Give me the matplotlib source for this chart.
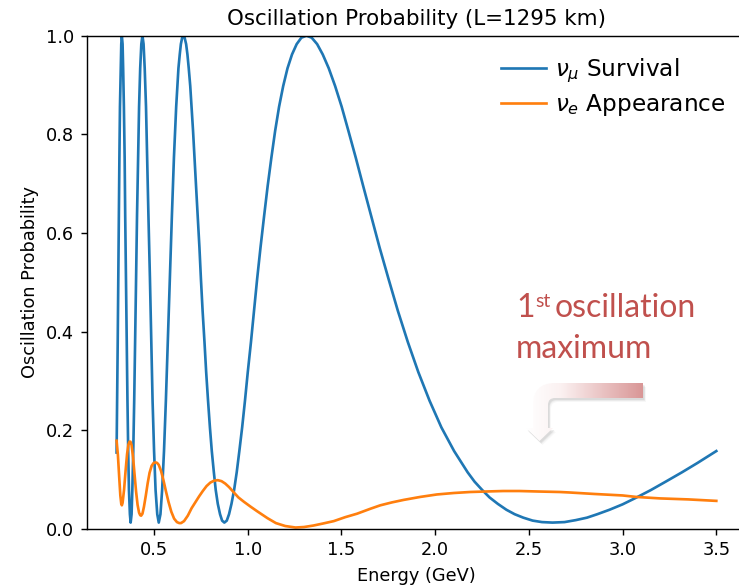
import numpy as np
import matplotlib
matplotlib.use("Agg")
import matplotlib.pyplot as plt
from matplotlib.path import Path
from matplotlib.patches import PathPatch
from matplotlib.transforms import Affine2D
from matplotlib.colors import LinearSegmentedColormap

# energies (GeV) and probabilities
survival_energy = [0.300, 0.303, 0.306, 0.309, 0.312, 0.315, 0.318, 0.322, 0.325, 0.328,
                   0.332, 0.335, 0.339, 0.343, 0.346, 0.350, 0.354, 0.358, 0.362, 0.366,
                   0.371, 0.375, 0.380, 0.384, 0.389, 0.394, 0.399, 0.404, 0.409, 0.415,
                   0.420, 0.426, 0.432, 0.438, 0.444, 0.450, 0.457, 0.463, 0.470, 0.478,
                   0.485, 0.492, 0.500, 0.508, 0.517, 0.525, 0.534, 0.543, 0.553, 0.563,
                   0.573, 0.584, 0.595, 0.606, 0.618, 0.630, 0.637, 0.643, 0.650, 0.657,
                   0.663, 0.671, 0.678, 0.685, 0.693, 0.700, 0.708, 0.716, 0.724, 0.733,
                   0.742, 0.750, 0.759, 0.769, 0.778, 0.788, 0.798, 0.808, 0.819, 0.829,
                   0.840, 0.852, 0.863, 0.875,
                   0.888, 0.900, 0.913, 0.927, 0.941, 0.955, 0.970, 0.985, 1.000, 1.017,
                   1.033, 1.050, 1.068, 1.087, 1.106, 1.126, 1.146, 1.167, 1.189, 1.212,
                   1.236, 1.261, 1.286, 1.313, 1.341, 1.370, 1.400, 1.432, 1.466, 1.501,
                   1.537, 1.576, 1.616, 1.659, 1.703, 1.751, 1.801, 1.854, 1.910, 1.970,
                   2.033, 2.101, 2.173, 2.210, 2.251, 2.290, 2.334, 2.380, 2.424, 2.470,
                   2.520, 2.570, 2.626, 2.690, 2.750, 2.810, 2.865, 2.930, 3.000, 3.075,
                   3.151, 3.230, 3.317, 3.400, 3.500]
survival_prob = [0.155, 0.260, 0.379, 0.507, 0.634, 0.753, 0.856, 0.934, 0.983, 1.000,
                 0.983, 0.934, 0.856, 0.753, 0.634, 0.507, 0.379, 0.260, 0.158, 0.079,
                 0.030, 0.013, 0.030, 0.079, 0.158, 0.260, 0.379, 0.507, 0.634, 0.753,
                 0.856, 0.934, 0.983, 1.000, 0.983, 0.934, 0.856, 0.753, 0.634, 0.507,
                 0.379, 0.260, 0.158, 0.079, 0.030, 0.013, 0.030, 0.079, 0.158, 0.260,
                 0.379, 0.507, 0.634, 0.753, 0.856, 0.934, 0.962, 0.983, 0.996, 1.000,
                 0.996, 0.983, 0.962, 0.934, 0.898, 0.856, 0.807, 0.753, 0.695, 0.634,
                 0.571, 0.507, 0.442, 0.379, 0.318, 0.260, 0.206, 0.158, 0.115, 0.079,
                 0.051, 0.030, 0.017, 0.013,
                 0.017, 0.030, 0.051, 0.079, 0.115, 0.158, 0.206, 0.260, 0.318, 0.379,
                 0.442, 0.507, 0.571, 0.634, 0.695, 0.753, 0.807, 0.856, 0.898, 0.934,
                 0.962, 0.983, 0.996, 1.000, 0.996, 0.983, 0.962, 0.934, 0.898, 0.856,
                 0.807, 0.753, 0.695, 0.634, 0.571, 0.507, 0.442, 0.379, 0.318, 0.260,
                 0.206, 0.158, 0.115, 0.096, 0.079, 0.064, 0.051, 0.039, 0.030, 0.023,
                 0.017, 0.014, 0.013, 0.014, 0.018, 0.023, 0.030, 0.039, 0.050, 0.064,
                 0.079, 0.096, 0.115, 0.134, 0.158]

appearance_energy = [0.300, 0.307, 0.314, 0.320, 0.325, 0.328, 0.332, 0.340, 0.348, 0.356,
                     0.363, 0.369, 0.374, 0.380, 0.388, 0.396, 0.404, 0.412, 0.420, 0.426,
                     0.431, 0.438, 0.446, 0.456, 0.466, 0.476, 0.487, 0.498, 0.508, 0.516,
                     0.525, 0.537, 0.550, 0.563, 0.577, 0.592, 0.607, 0.622, 0.634, 0.644,
                     0.660, 0.680, 0.700, 0.720, 0.740, 0.760, 0.780, 0.800, 0.820, 0.840,
                     0.860, 0.880, 0.900, 0.926, 0.950, 0.980, 1.016, 1.050, 1.105, 1.150,
                     1.200, 1.255, 1.300, 1.350, 1.400, 1.459, 1.520, 1.583, 1.654, 1.707,
                     1.770, 1.832, 1.920, 2.009, 2.100, 2.186, 2.270, 2.363, 2.450, 2.550,
                     2.665, 2.718, 2.850, 3.000, 3.073, 3.200, 3.350, 3.500]
appearance_prob = [0.179, 0.150, 0.105, 0.068, 0.051, 0.048, 0.053, 0.080, 0.118, 0.152,
                   0.171, 0.177, 0.177, 0.170, 0.145, 0.110, 0.076, 0.049, 0.033, 0.028,
                   0.027, 0.031, 0.045, 0.068, 0.093, 0.114, 0.128, 0.134, 0.135, 0.134,
                   0.130, 0.118, 0.099, 0.077, 0.055, 0.035, 0.021, 0.014, 0.012, 0.012,
                   0.016, 0.027, 0.042, 0.054, 0.066, 0.077, 0.087, 0.094, 0.098, 0.099,
                   0.097, 0.092, 0.085, 0.074, 0.064, 0.055, 0.045, 0.036, 0.022, 0.012,
                   0.006, 0.003, 0.004, 0.007, 0.011, 0.016, 0.024, 0.031, 0.041, 0.048,
                   0.054, 0.059, 0.065, 0.070, 0.073, 0.075, 0.076, 0.077, 0.077, 0.076,
                   0.075, 0.074, 0.071, 0.068, 0.065, 0.062, 0.060, 0.057]

W, H = 739, 586
fig = plt.figure(figsize=(W / 128, H / 128), dpi=128)
# axes run a little past the right edge, as in the reference crop
ax = fig.add_axes([86.6 / W, 57 / H, 659.7 / W, 493.3 / H])
ax.plot(survival_energy, survival_prob, label=r"$\nu_\mu$ Survival")
ax.plot(appearance_energy, appearance_prob, label=r"$\nu_e$ Appearance")
ax.set_ylim(0, 1)
ax.set_xlabel("Energy (GeV)")
ax.set_ylabel("Oscillation Probability")
ax.set_title("Oscillation Probability (L=1295 km)")
ax.legend(loc="upper right", frameon=False, fontsize=13, labelspacing=0.32,
          handlelength=1.95, handletextpad=0.4)

# overlay in pixel coordinates for the pasted-on annotation
ov = fig.add_axes([0, 0, 1, 1], zorder=5)
ov.set_xlim(0, W)
ov.set_ylim(H, 0)
ov.axis("off")
ov.patch.set_alpha(0)

red = "#C0504D"
ov.text(516, 317, "1", fontsize=18, family="Lato", color=red, va="baseline")
ov.text(535.5, 307, "st", fontsize=11, family="Lato", color=red, va="baseline")
ov.text(555, 317, "oscillation", fontsize=18, family="Lato", color=red, va="baseline")
ov.text(516, 358, "maximum", fontsize=18, family="Lato", color=red, va="baseline")

# bent arrow with white-to-pink gradient
verts = [(643, 383), (555, 383), (533, 383), (533, 405), (533, 428), (526, 428),
         (539.5, 441), (553, 428), (548, 428), (548, 405), (548, 398), (555, 398),
         (643, 398), (643, 383)]
codes = [Path.MOVETO, Path.LINETO, Path.CURVE3, Path.CURVE3, Path.LINETO, Path.LINETO,
         Path.LINETO, Path.LINETO, Path.LINETO, Path.LINETO, Path.CURVE3, Path.CURVE3,
         Path.LINETO, Path.CLOSEPOLY]
arrow = Path(verts, codes)

for dx, dy, a in [(3, 4, 0.06), (2, 3, 0.10), (1.5, 2, 0.15)]:
    ov.add_patch(PathPatch(arrow.transformed(Affine2D().translate(dx, dy)),
                           facecolor="gray", edgecolor="none", alpha=a))

clip = PathPatch(arrow, facecolor="none", edgecolor="none")
ov.add_patch(clip)
cmap = LinearSegmentedColormap.from_list("arr", [(0, "white"), (0.3, "#fbf1f1"), (1, "#d99696")])
grad = np.linspace(0, 1, 256).reshape(1, -1)
im = ov.imshow(grad, extent=[526, 643, 441, 383], cmap=cmap, aspect="auto", zorder=6)
im.set_clip_path(clip)
ov.set_xlim(0, W)
ov.set_ylim(H, 0)

fig.savefig("out.png", dpi=128)
